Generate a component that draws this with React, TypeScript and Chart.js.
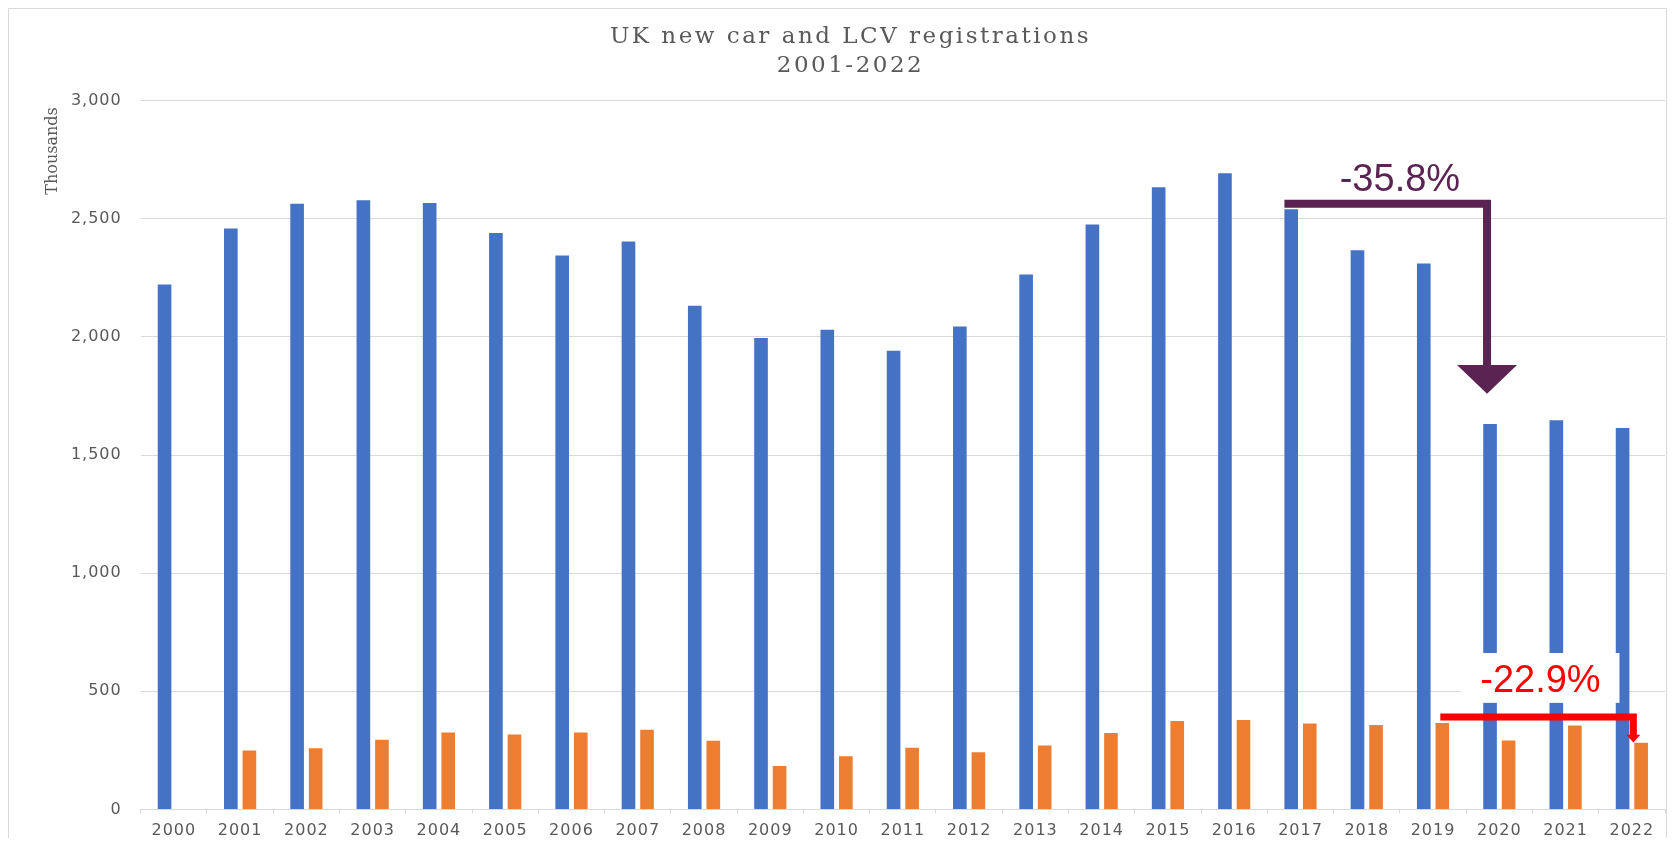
import { useEffect, useRef } from "react";
import { Chart, registerables } from "chart.js";

Chart.register(...registerables);

// ---------- data (thousands) ----------
const years = [
  "2000", "2001", "2002", "2003", "2004", "2005", "2006", "2007", "2008", "2009", "2010", "2011",
  "2012", "2013", "2014", "2015", "2016", "2017", "2018", "2019", "2020", "2021", "2022",
];
const carRegistrations = [
  2221.6, 2458.8, 2563.6, 2579.1, 2567.3, 2439.7, 2344.9, 2404.0, 2131.8, 1995.0, 2030.8, 1941.3,
  2044.6, 2264.7, 2476.4, 2633.5, 2692.8, 2540.6, 2367.1, 2311.1, 1631.1, 1647.2, 1614.1,
];
const lcvRegistrations = [
  null, 249, 259, 295, 325, 317, 325, 337, 291, 184, 225, 261,
  242, 271, 323, 374, 378, 364, 357, 366, 292, 355, 282,
];
const yAxisMax = 3000;
const yAxisStep = 500;

const chartTitle = ["UK new car and LCV registrations", "2001-2022"];
const yAxisTitle = "Thousands";

// ---------- annotations (category indexes and values in thousands) ----------
const carDropText = "-35.8%";
const carDropFromIndex = 17;
const carDropToIndex = 20;
const carDropLineValue = 2564;
const carDropHeadTop = 1881;
const carDropHeadTip = 1759;
const carDropTextBaseline = 2619;

const lcvDropText = "-22.9%";
const lcvDropFromIndex = 19;
const lcvDropToIndex = 22;
const lcvDropLineValue = 391;
const lcvDropHeadTop = 316;
const lcvDropHeadTip = 283;
const lcvBoxTop = 662;
const lcvBoxBottom = 451;
const lcvTextBaseline = 496;

const GREY_TEXT = "#595959";
const GRID = "#d9d9d9";
const PURPLE = "#5a2351";
const RED = "#ff0000";

const framePlugin = {
  id: "frame",
  beforeDraw(chart: any) {
    const { ctx, width, height } = chart;
    ctx.save();
    ctx.fillStyle = "#ffffff";
    ctx.fillRect(0, 0, width, height);
    ctx.strokeStyle = GRID;
    ctx.lineWidth = 1;
    ctx.strokeRect(0.5, 0.5, width - 1, height + 10);
    ctx.restore();
    (ctx as any).letterSpacing = "1px";
  },
};

const annotationPlugin = {
  id: "dropAnnotations",
  afterDraw(chart: any) {
    const { ctx, width } = chart;
    const x = chart.scales.x;
    const y = chart.scales.y;
    const cars = chart.getDatasetMeta(0).data as any[];
    const lcv = chart.getDatasetMeta(1).data as any[];
    ctx.save();

    // title
    (ctx as any).letterSpacing = "2.5px";
    ctx.fillStyle = GREY_TEXT;
    ctx.font = "23px 'DejaVu Serif', serif";
    ctx.textAlign = "center";
    ctx.textBaseline = "middle";
    ctx.fillText(chartTitle[0], width / 2 + 13, 29);
    ctx.fillText(chartTitle[1], width / 2 + 13, 58);
    (ctx as any).letterSpacing = "0px";

    // y axis title
    ctx.save();
    ctx.translate(44.7, 143);
    ctx.rotate(-Math.PI / 2);
    ctx.font = "16px 'DejaVu Serif', serif";
    ctx.fillText(yAxisTitle, 0, 0);
    ctx.restore();

    // purple: cars drop
    const pLineY = y.getPixelForValue(carDropLineValue);
    const pStartX = cars[carDropFromIndex].x - cars[carDropFromIndex].width / 2;
    const pEndX = cars[carDropToIndex].x - 3;
    const pHeadTop = y.getPixelForValue(carDropHeadTop);
    const pHeadTip = y.getPixelForValue(carDropHeadTip);
    ctx.strokeStyle = PURPLE;
    ctx.fillStyle = PURPLE;
    ctx.lineWidth = 8;
    ctx.lineCap = "butt";
    ctx.lineJoin = "miter";
    ctx.beginPath();
    ctx.moveTo(pStartX, pLineY);
    ctx.lineTo(pEndX, pLineY);
    ctx.lineTo(pEndX, pHeadTop + 1);
    ctx.stroke();
    ctx.beginPath();
    ctx.moveTo(pEndX - 30, pHeadTop);
    ctx.lineTo(pEndX + 30, pHeadTop);
    ctx.lineTo(pEndX, pHeadTip);
    ctx.closePath();
    ctx.fill();
    ctx.font = "38px 'Liberation Sans', Arial, sans-serif";
    ctx.textAlign = "center";
    ctx.textBaseline = "alphabetic";
    const pTextX = (x.getPixelForValue(18) + x.getPixelForValue(19)) / 2;
    ctx.fillText(carDropText, pTextX, y.getPixelForValue(carDropTextBaseline));

    // red: LCV drop
    const boxCx = (x.getPixelForValue(20) + x.getPixelForValue(21)) / 2 + 8;
    const boxTop = y.getPixelForValue(lcvBoxTop);
    const boxBottom = y.getPixelForValue(lcvBoxBottom);
    ctx.fillStyle = "#ffffff";
    ctx.fillRect(boxCx - 79, boxTop, 158, boxBottom - boxTop);
    ctx.fillStyle = RED;
    ctx.fillText(lcvDropText, boxCx, y.getPixelForValue(lcvTextBaseline));

    const rLineY = y.getPixelForValue(lcvDropLineValue);
    const rStartX = lcv[lcvDropFromIndex].x - 2;
    const rEndX = x.getPixelForValue(lcvDropToIndex) + 1.5;
    const rHeadTop = y.getPixelForValue(lcvDropHeadTop);
    const rHeadTip = y.getPixelForValue(lcvDropHeadTip);
    ctx.strokeStyle = RED;
    ctx.lineWidth = 7;
    ctx.beginPath();
    ctx.moveTo(rStartX, rLineY);
    ctx.lineTo(rEndX, rLineY);
    ctx.lineTo(rEndX, rHeadTop + 1);
    ctx.stroke();
    ctx.beginPath();
    ctx.moveTo(rEndX - 7, rHeadTop);
    ctx.lineTo(rEndX + 7, rHeadTop);
    ctx.lineTo(rEndX, rHeadTip);
    ctx.closePath();
    ctx.fill();

    ctx.restore();
  },
};

export default function App() {
  const canvasRef = useRef<HTMLCanvasElement | null>(null);

  useEffect(() => {
    if (!canvasRef.current) return;
    const chart = new Chart(canvasRef.current, {
      type: "bar",
      data: {
        labels: years,
        datasets: [
          {
            label: "Cars",
            data: carRegistrations,
            backgroundColor: "#4472c4",
            categoryPercentage: 0.56,
            barPercentage: 0.735,
          },
          {
            label: "LCVs",
            data: lcvRegistrations as any,
            backgroundColor: "#ed7d31",
            categoryPercentage: 0.56,
            barPercentage: 0.735,
          },
        ],
      },
      options: {
        responsive: false,
        animation: false,
        layout: { padding: { top: 92.7, right: 2, left: 0, bottom: 0 } },
        plugins: {
          legend: { display: false },
          title: { display: false },
          tooltip: { enabled: false },
        },
        scales: {
          x: {
            grid: {
              display: true,
              drawOnChartArea: false,
              drawTicks: true,
              tickLength: 4,
              color: GRID,
              offset: true,
            },
            border: { display: true, color: GRID, width: 1 },
            ticks: {
              color: GREY_TEXT,
              font: { family: "'DejaVu Sans', sans-serif", size: 16 },
              maxRotation: 0,
              autoSkip: false,
              padding: 8,
            },
            afterFit(scale: any) {
              scale.height = 26;
            },
          },
          y: {
            min: 0,
            max: yAxisMax,
            ticks: {
              stepSize: yAxisStep,
              color: GREY_TEXT,
              font: { family: "'DejaVu Sans', sans-serif", size: 16 },
              padding: 19,
              callback: (v: any) => Number(v).toLocaleString("en-US"),
            },
            grid: { color: GRID, lineWidth: 1, drawTicks: false },
            border: { display: false },
            title: { display: false },
            afterFit(scale: any) {
              scale.width = 132.7;
            },
          },
        },
      },
      plugins: [framePlugin, annotationPlugin],
    } as any);
    return () => chart.destroy();
  }, []);

  return (
    <div style={{ width: 1659, height: 830 }}>
      <canvas ref={canvasRef} width={1659} height={830} style={{ display: "block" }} />
    </div>
  );
}
